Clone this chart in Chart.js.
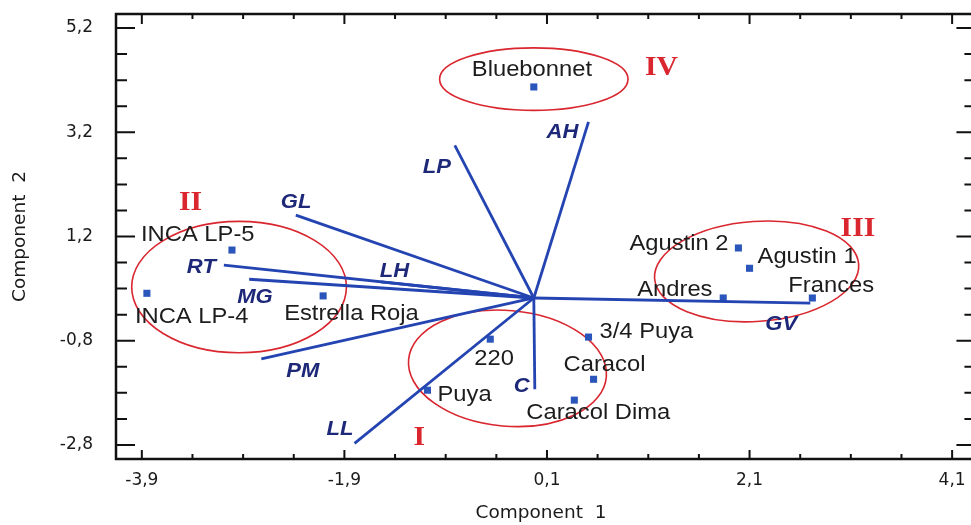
<!DOCTYPE html>
<html>
<head>
<meta charset="utf-8">
<script src="https://cdn.jsdelivr.net/npm/chart.js@4.4.1/dist/chart.umd.min.js"></script>
<style>
  html, body { margin: 0; padding: 0; background: #fff; overflow: hidden; }
  #wrap { width: 971px; height: 525px; }
</style>
</head>
<body>
<div id="wrap"><canvas id="biplot" width="971" height="525"></canvas></div>
<script>
// Cultivares (puntos del biplot)
const cultivars = ['Bluebonnet', 'INCA LP-5', 'INCA LP-4', 'Estrella Roja', 'Puya', '220',
  '3/4 Puya', 'Caracol', 'Caracol Dima', 'Andres', 'Frances', 'Agustin 1', 'Agustin 2'];
const comp1 = [-0.03, -3.01, -3.85, -2.11, -1.08, -0.46, 0.51, 0.56, 0.37, 1.84, 2.72, 2.10, 1.99];
const comp2 = [4.07, 0.94, 0.11, 0.06, -1.75, -0.77, -0.73, -1.54, -1.94, 0.02, 0.02, 0.59, 0.98];

// Variables (vectores desde el origen)
const traits = ['AH', 'LP', 'GL', 'RT', 'MG', 'LH', 'PM', 'LL', 'C', 'GV'];
const traitX = [0.51, -0.81, -2.38, -3.09, -2.84, -1.54, -2.72, -1.80, -0.02, 2.70];
const traitY = [3.40, 2.95, 1.61, 0.65, 0.38, 0.33, -1.15, -2.77, -1.73, -0.08];
const origin = [-0.03, 0.02];

// Grupos (elipses)
const groups = ['I', 'II', 'III', 'IV'];
const groupCx = [-0.29, -2.94, 2.17, -0.03];
const groupCy = [-1.33, 0.23, 0.53, 4.22];
const groupRx = [0.98, 1.06, 1.01, 0.93];
const groupRy = [1.11, 1.26, 0.96, 0.60];

// Graduations
const xTicks = [-3.9, -1.9, 0.1, 2.1, 4.1];
const yTicks = [-2.8, -0.8, 1.2, 3.2, 5.2];

// --- mise en page (pixels) ---
const groupRot = [5, 0, -4, 0];          // degres
const groupLabelAt = [[-1.16, -2.80], [-3.42, 1.71], [3.17, 1.21], [1.23, 4.30]];
// decalage du texte (gauche, ligne de base) par rapport au point
const cultivarOffset = [[-62, -11], [-91, -9], [-12, 30], [-39, 24], [10, 11], [-16, 26],
  [11, 1], [-30, -8], [-48, 19], [-86, -2], [-24, -6], [8, -5], [-109, 2]];
const traitOffset = [[-42, 16], [-32, 28], [-15, -7], [-37, 8], [-12, 24], [-1, -5],
  [25, 18], [-28, -8], [-21, 3], [-45, 27]];

const BLUE_LINE = '#2444b2';
const BLUE_DOT = '#2a55bb';
const NAVY = '#1e2878';
const RED = '#d9262f';

function fmt(v) { return v.toFixed(1).replace('.', ','); }

function drawText(ctx, txt, x, y, sx) {
  ctx.save();
  ctx.translate(x, y);
  ctx.scale(sx, 1);
  ctx.fillText(txt, 0, 0);
  ctx.restore();
}

const decor = {
  id: 'decor',
  beforeDatasetsDraw(chart) {
    const { ctx, scales: { x, y } } = chart;
    ctx.save();
    ctx.strokeStyle = RED;
    ctx.lineWidth = 1.6;
    groups.forEach((g, i) => {
      const cx = x.getPixelForValue(groupCx[i]);
      const cy = y.getPixelForValue(groupCy[i]);
      const rx = Math.abs(x.getPixelForValue(groupCx[i] + groupRx[i]) - cx);
      const ry = Math.abs(y.getPixelForValue(groupCy[i] + groupRy[i]) - cy);
      ctx.beginPath();
      ctx.ellipse(cx, cy, rx, ry, groupRot[i] * Math.PI / 180, 0, Math.PI * 2);
      ctx.stroke();
    });
    ctx.restore();
  },
  afterDatasetsDraw(chart) {
    const { ctx, chartArea: a, scales: { x, y } } = chart;
    const xR = x.getPixelForValue(4.33);  // bord droit (hors image)

    ctx.save();
    // cadre
    ctx.strokeStyle = '#111';
    ctx.lineWidth = 2.5;
    ctx.beginPath();
    ctx.moveTo(xR, a.top); ctx.lineTo(a.left, a.top);
    ctx.lineTo(a.left, a.bottom); ctx.lineTo(xR, a.bottom);
    ctx.stroke();

    // graduations vers l'interieur
    ctx.lineWidth = 2;
    for (let k = 0; k <= 16; k++) {
      const px = x.getPixelForValue(xTicks[0] + k * 0.5);
      const major = k % 4 === 0;
      ctx.beginPath();
      ctx.moveTo(px, a.bottom); ctx.lineTo(px, a.bottom - (major ? 9 : 5));
      ctx.moveTo(px, a.top); ctx.lineTo(px, a.top + (major ? 10 : 5));
      ctx.stroke();
    }
    for (let k = 0; k <= 16; k++) {
      const py = y.getPixelForValue(yTicks[0] + k * 0.5);
      const major = k % 4 === 0;
      ctx.beginPath();
      ctx.moveTo(a.left, py); ctx.lineTo(a.left + (major ? 19 : 11), py);
      ctx.moveTo(xR, py); ctx.lineTo(xR - (major ? 19 : 11), py);
      ctx.stroke();
    }

    // noms des cultivars
    ctx.fillStyle = '#1c1c1c';
    ctx.font = '22px "Liberation Sans", Arial, sans-serif';
    ctx.textAlign = 'left';
    ctx.textBaseline = 'alphabetic';
    cultivars.forEach((name, i) => {
      const px = x.getPixelForValue(comp1[i]);
      const py = y.getPixelForValue(comp2[i]);
      drawText(ctx, name, px + cultivarOffset[i][0], py + cultivarOffset[i][1], 1.08);
    });

    // noms des variables
    ctx.fillStyle = NAVY;
    ctx.font = 'italic bold 21px "Liberation Sans", Arial, sans-serif';
    traits.forEach((t, i) => {
      const px = x.getPixelForValue(traitX[i]);
      const py = y.getPixelForValue(traitY[i]);
      drawText(ctx, t, px + traitOffset[i][0], py + traitOffset[i][1], 1.05);
    });

    // chiffres romains des groupes
    ctx.fillStyle = RED;
    ctx.font = 'bold 27px "Liberation Serif", "Times New Roman", serif';
    ctx.textAlign = 'center';
    groups.forEach((g, i) => {
      const px = x.getPixelForValue(groupLabelAt[i][0]);
      const py = y.getPixelForValue(groupLabelAt[i][1]);
      drawText(ctx, g, px, py, 1.1);
    });
    ctx.restore();
  }
};

const vectorSets = traits.map((t, i) => ({
  label: t,
  type: 'line',
  data: [{ x: origin[0], y: origin[1] }, { x: traitX[i], y: traitY[i] }],
  borderColor: BLUE_LINE,
  borderWidth: 2.8,
  pointRadius: 0,
  fill: false,
  tension: 0
}));

const ctx = document.getElementById('biplot').getContext('2d');

new Chart(ctx, {
  type: 'scatter',
  data: {
    datasets: [
      ...vectorSets,
      {
        label: 'Cultivares',
        data: cultivars.map((c, i) => ({ x: comp1[i], y: comp2[i] })),
        pointStyle: 'rect',
        pointRadius: 5,
        pointBackgroundColor: BLUE_DOT,
        pointBorderWidth: 0
      }
    ]
  },
  options: {
    responsive: false,
    animation: false,
    layout: { padding: { top: 14, right: 0, left: 0, bottom: 0 } },
    plugins: {
      legend: { display: false },
      tooltip: { enabled: false }
    },
    scales: {
      x: {
        type: 'linear',
        min: -4.155,
        max: 4.237,
        afterBuildTicks: s => { s.ticks = xTicks.map(v => ({ value: v })); },
        afterFit: s => { s.height = 66; s.paddingLeft = 0; s.paddingRight = 0; },
        grid: { display: false, drawTicks: false },
        border: { display: false },
        ticks: {
          padding: 11,
          color: '#1a1a1a',
          font: { family: '"DejaVu Sans", sans-serif', size: 17 },
          callback: v => fmt(v)
        },
        title: {
          display: true,
          text: 'Component  1',
          color: '#1a1a1a',
          padding: { top: 0, bottom: 1 },
          font: { family: '"DejaVu Sans", sans-serif', size: 18.5 }
        }
      },
      y: {
        type: 'linear',
        min: -3.07,
        max: 5.47,
        afterBuildTicks: s => { s.ticks = yTicks.map(v => ({ value: v })); },
        afterFit: s => { s.width = 116; s.paddingTop = 0; s.paddingBottom = 0; },
        grid: { display: false, drawTicks: false },
        border: { display: false },
        ticks: {
          padding: 23,
          color: '#1a1a1a',
          font: { family: '"DejaVu Sans", sans-serif', size: 17 },
          callback: v => fmt(v)
        },
        title: {
          display: true,
          text: 'Component  2',
          color: '#1a1a1a',
          padding: { top: 9, bottom: 0 },
          font: { family: '"DejaVu Sans", sans-serif', size: 18.5 }
        }
      }
    }
  },
  plugins: [decor]
});
</script>
</body>
</html>
